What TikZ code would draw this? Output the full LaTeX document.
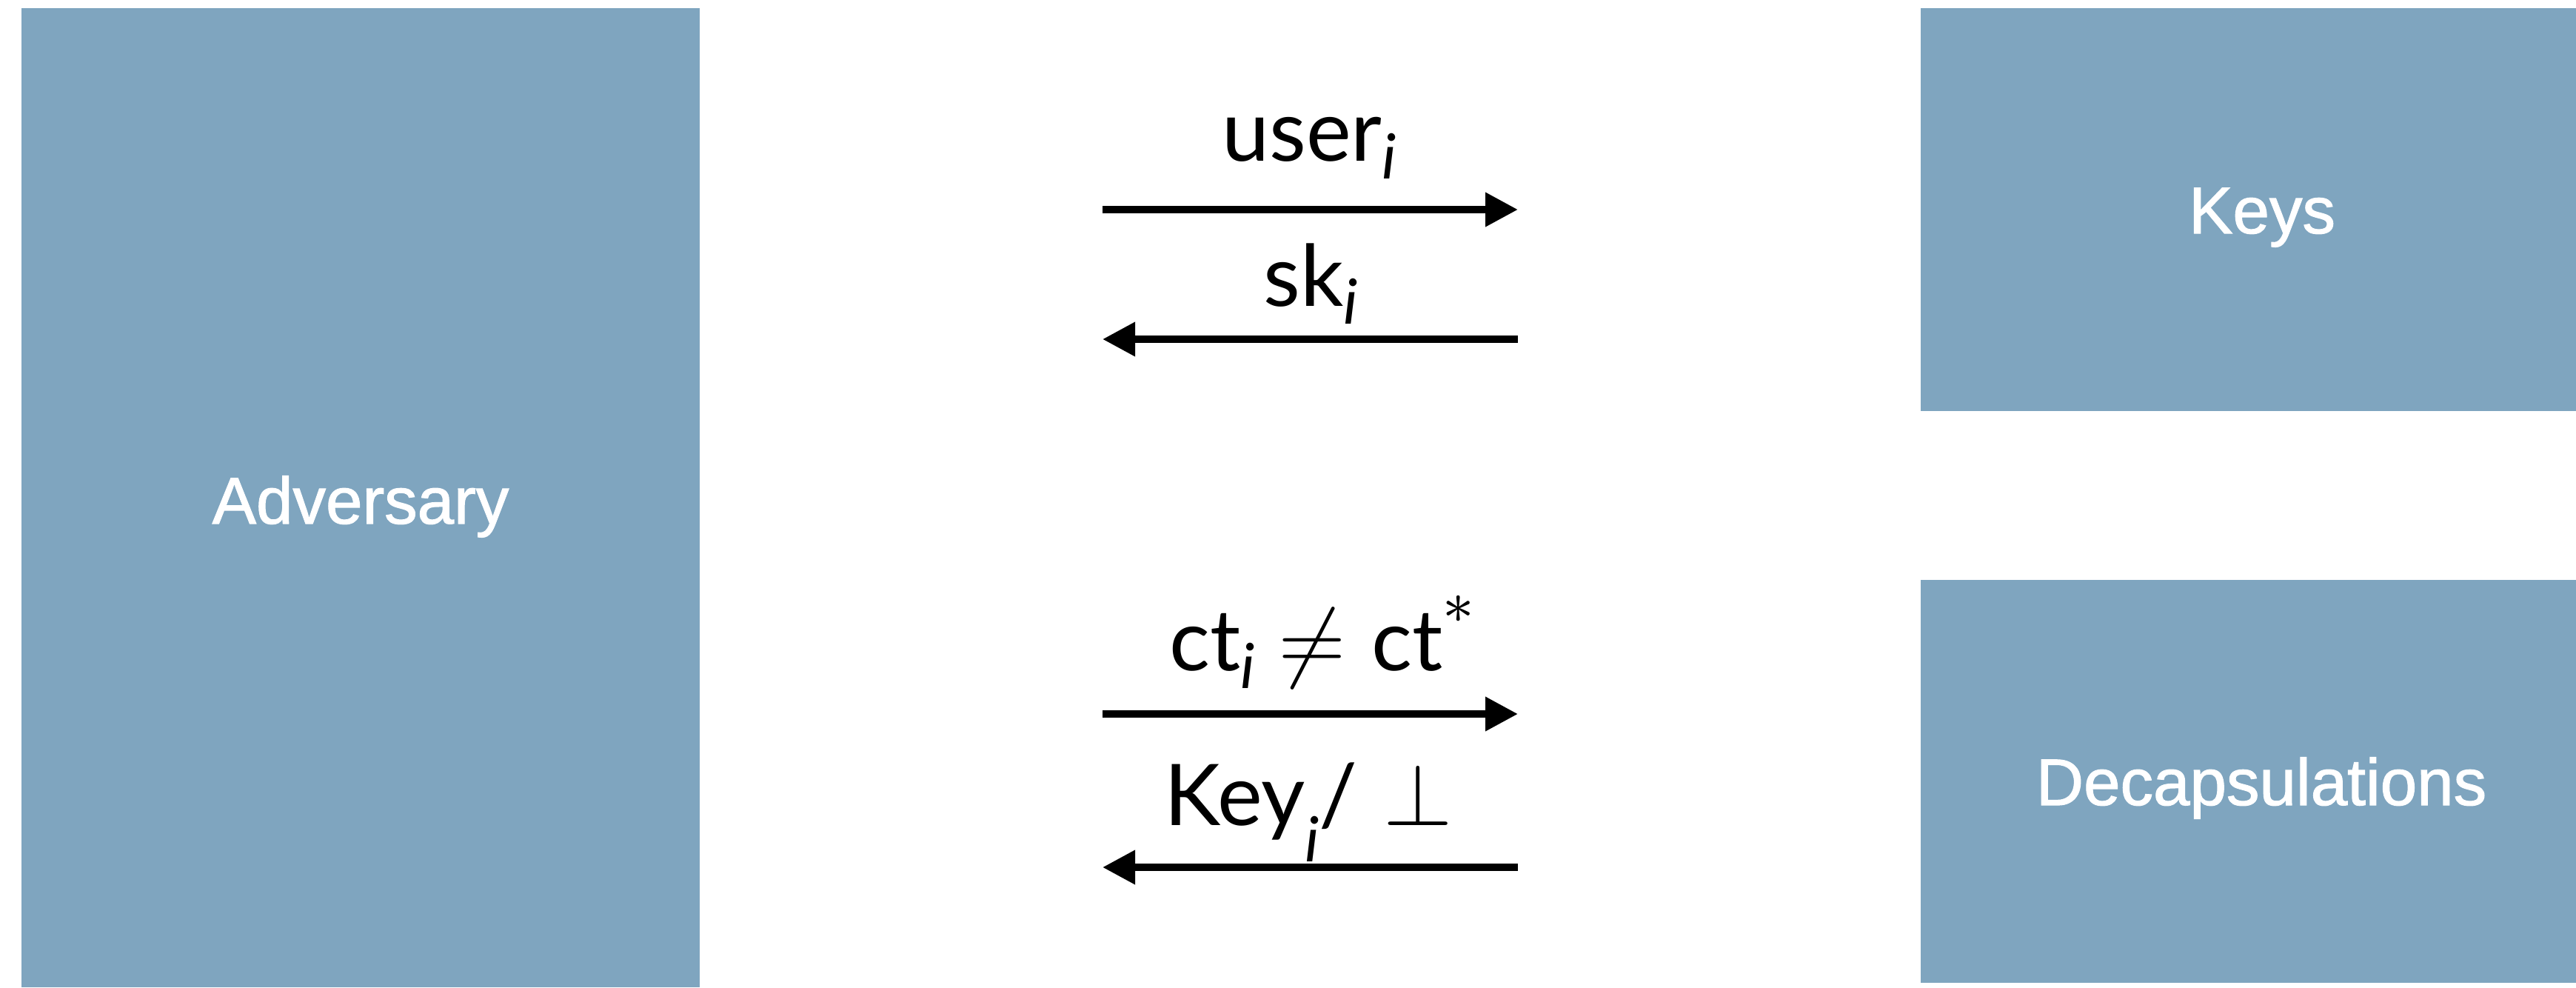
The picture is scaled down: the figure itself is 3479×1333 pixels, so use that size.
\documentclass[tikz,border=0pt]{standalone}
\usepackage{fontspec}
\setmainfont{Lato}
\newfontfamily\boxfont{Liberation Sans}[FakeBold=1.3]
\usetikzlibrary{arrows.meta}
\definecolor{boxblue}{HTML}{7FA5BF}
\newcommand{\lowi}[1]{\raisebox{#1}{\fontsize{8.4pt}{8.4pt}\selectfont$\mathit{i}$}}
\tikzset{
  blockbox/.style={anchor=base, inner sep=0pt, font=\boxfont\fontsize{8.9pt}{9pt}\selectfont, text=white},
  msgarrow/.style={line width=1pt, -{Triangle[length=4.4pt,width=4.4pt]}},
  msglabel/.style={anchor=base, inner sep=0pt, font=\fontsize{11.5pt}{12pt}\selectfont}
}
\begin{document}
\begin{tikzpicture}[x=0.1pt,y=-0.1pt]
\useasboundingbox (0,0) rectangle (3479,1333);
% boxes
\fill[boxblue] (29,11) rectangle (945,1333);
\node[blockbox] (adv) at (487,707) {Adversary};
\fill[boxblue] (2594,11) rectangle (3479,555);
\node[blockbox] (keys) at (3055,315) {Keys};
\fill[boxblue] (2594,783) rectangle (3479,1327);
\node[blockbox] (dec) at (3054,1087) {Decapsulations};
% arrow end points
\coordinate (a1l) at (1489,283);
\coordinate (a1r) at (2050,283);
\coordinate (a2l) at (1489,458);
\coordinate (a2r) at (2050,458);
\coordinate (a3l) at (1489,964);
\coordinate (a3r) at (2050,964);
\coordinate (a4l) at (1489,1171);
\coordinate (a4r) at (2050,1171);
\draw[msgarrow] (a1l) -- (a1r);
\draw[msgarrow] (a2r) -- (a2l);
\draw[msgarrow] (a3l) -- (a3r);
\draw[msgarrow] (a4r) -- (a4l);
% labels
\node[msglabel] (l1) at (1768,217) {user\lowi{-2.4pt}};
\node[msglabel] (l2) at (1770,413) {sk\lowi{-2.4pt}};
\node[msglabel] (l3) at (1785,905) {ct\lowi{-2.4pt}\hspace{3.2pt}{\fontsize{12.5pt}{12.5pt}\selectfont$\neq$}\hspace{3.4pt}ct\raisebox{6.4pt}{\fontsize{8.4pt}{8.4pt}\selectfont$\ast$}};
\node[msglabel] (l4) at (1767,1114) {Key\lowi{-4.9pt}/\hspace{3.5pt}{\fontsize{12.5pt}{12.5pt}\selectfont$\perp$}};
\end{tikzpicture}
\end{document}
